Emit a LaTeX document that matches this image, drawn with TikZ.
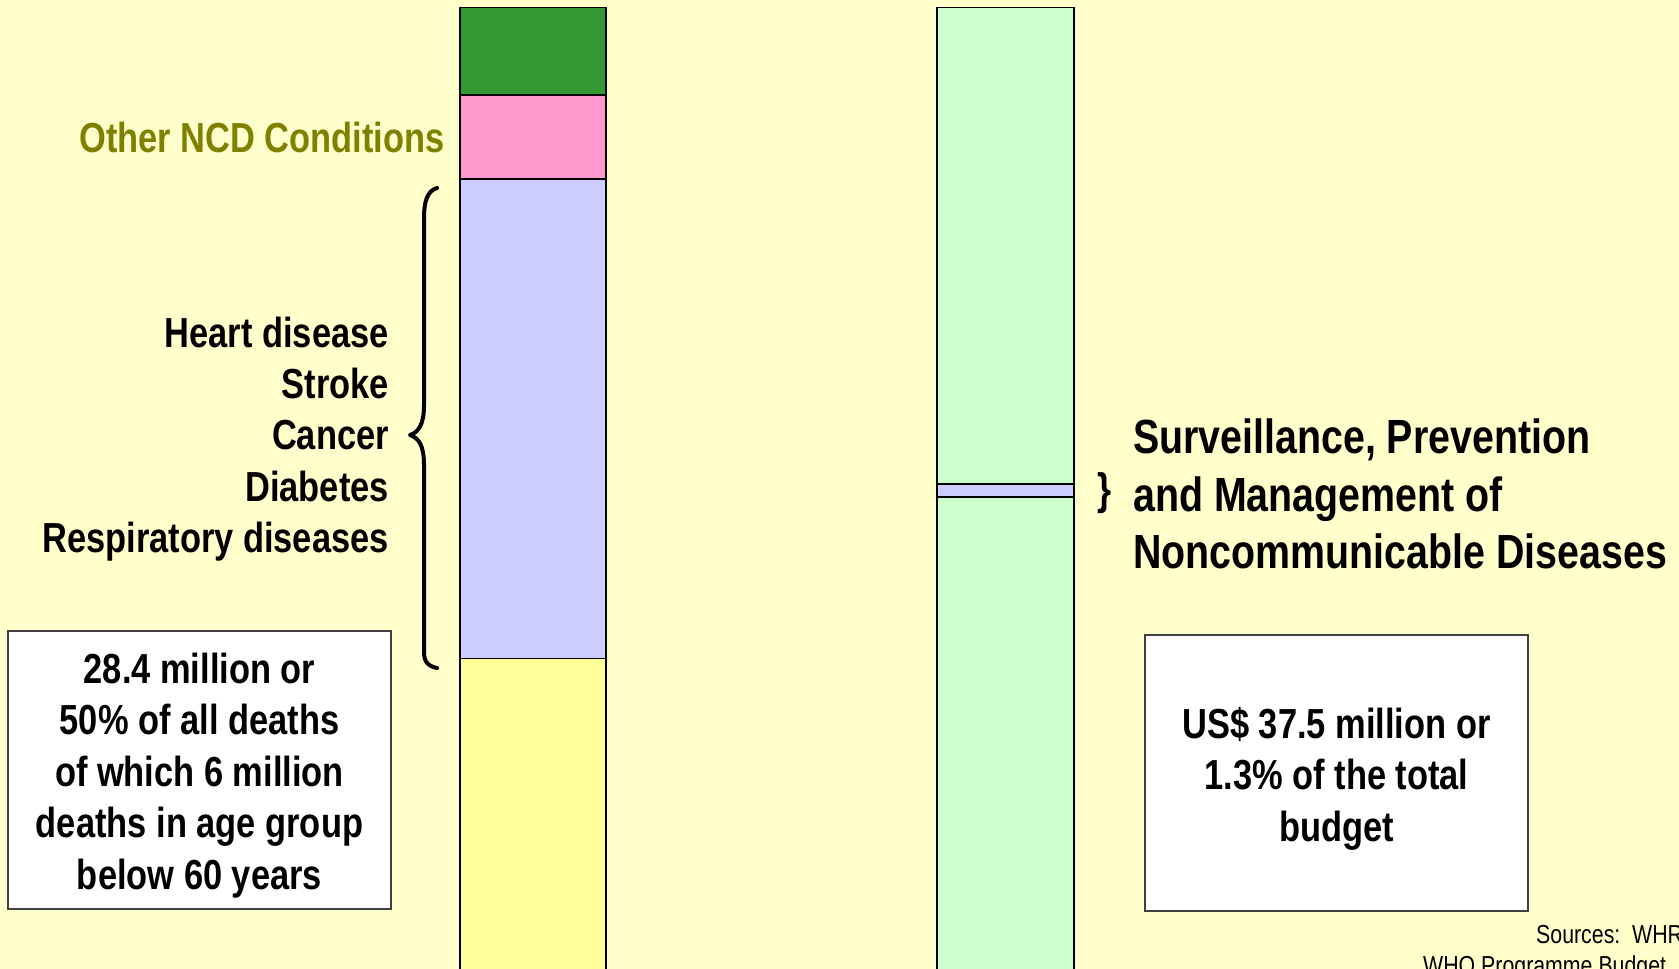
\documentclass[tikz,border=0pt]{standalone}
\usepackage{fontspec}
\setmainfont{Liberation Sans}
\newfontfamily\narrowf[FakeStretch=0.82]{Liberation Sans}
\definecolor{bgyellow}{HTML}{FFFFCC}
\definecolor{barGreen}{HTML}{339933}
\definecolor{barPink}{HTML}{FF99CC}
\definecolor{barLav}{HTML}{CCCCFF}
\definecolor{barYellow}{HTML}{FFFF99}
\definecolor{barMint}{HTML}{CCFFCC}
\definecolor{olive}{HTML}{808000}
\definecolor{boxline}{HTML}{404040}
\tikzset{
  seg/.style={draw=black, line width=1.8pt},
  infobox/.style={draw=boxline, fill=white, line width=1.3pt},
  bigtxt/.style={inner sep=0pt, font=\narrowf\bfseries\fontsize{42}{51.4}\selectfont},
  hugetxt/.style={inner sep=0pt, font=\narrowf\bfseries\fontsize{48}{57.8}\selectfont},
  smalltxt/.style={inner sep=0pt, font=\narrowf\fontsize{26}{30}\selectfont},
  bracepath/.style={draw=black, line width=4pt, line cap=round, line join=round}
}
\begin{document}
\begin{tikzpicture}[x=1pt,y=-1pt]
\useasboundingbox (0,0) rectangle (1679,969);
\clip (0,0) rectangle (1679,969);
\fill[bgyellow] (0,0) rectangle (1679,969);

% left bar
\filldraw[seg, fill=barYellow] (460,658.5) rectangle (606,1000);
\filldraw[seg, fill=barLav] (460,179) rectangle (606,658.5);
\filldraw[seg, fill=barPink] (460,95) rectangle (606,179);
\filldraw[seg, fill=barGreen] (460,7.5) rectangle (606,95);

% right bar
\filldraw[seg, fill=barMint] (937,7.5) rectangle (1074,484);
\filldraw[seg, fill=barMint] (937,497) rectangle (1074,1000);
\filldraw[seg, fill=barLav] (937,484) rectangle (1074,497);

% brace
\draw[bracepath] (437,188) .. controls (427,191) and (424,202) .. (424,218)
  -- (424,405) .. controls (424,424) and (419,432) .. (410,435)
  .. controls (419,438) and (424,446) .. (424,465)
  -- (424,652) .. controls (424,662) and (428,666) .. (437,668);

% labels
\node[bigtxt, text=olive, anchor=east] (other) at (445,137) {Other NCD Conditions};
\node[bigtxt, align=right, anchor=east] (ncdlist) at (389,439)
  {Heart disease\\Stroke\\Cancer\\Diabetes\\Respiratory diseases};

\node[infobox, minimum width=383pt, minimum height=278pt] (deathbox) at (199.5,770) {};
\node[bigtxt, align=center] (deathtxt) at (199.5,775.5)
  {28.4 million or\\50\% of all deaths\\of which 6 million\\deaths in age group\\below 60 years};

\node[bigtxt, font=\narrowf\bfseries\fontsize{44}{50}\selectfont] (smallbrace) at (1105,493) {\}};
\node[hugetxt, align=left, anchor=west] (spm) at (1133,494)
  {Surveillance, Prevention\\and Management of\\Noncommunicable Diseases};

\node[infobox, minimum width=383pt, minimum height=276pt] (budgetbox) at (1336.5,773) {};
\node[bigtxt, align=center] (budgettxt) at (1336.5,778.5)
  {US\$ 37.5 million or\\1.3\% of the total\\budget};

\node[smalltxt, anchor=base west] (src1) at (1536,943) {Sources:\ \ WHR};
\node[smalltxt, anchor=base west] (src2) at (1423,974) {WHO Programme Budget};
\end{tikzpicture}
\end{document}
